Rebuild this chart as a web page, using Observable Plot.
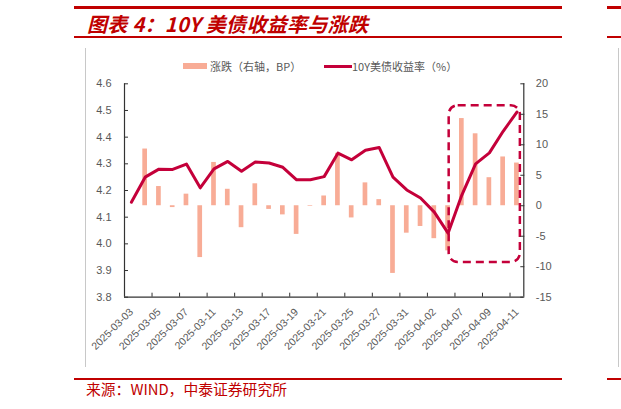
<!DOCTYPE html>
<html><head><meta charset="utf-8">
<script src="https://cdn.jsdelivr.net/npm/d3@7"></script>
<script src="https://cdn.jsdelivr.net/npm/@observablehq/plot@0.6"></script>
<style>
html,body{margin:0;padding:0;background:#fff;}
body{width:621px;height:409px;overflow:hidden;position:relative;font-family:"Noto Sans CJK SC","Noto Sans",sans-serif;}
.abs{position:absolute;}
.red{background:#C00000;}
.gray{background:#c8c8c8;}
</style></head><body>
<div id="chart" class="abs" style="left:0;top:0;"></div>

<div class="abs red" style="left:74px;top:6px;width:488px;height:2.5px;"></div>
<div class="abs red" style="left:607px;top:6px;width:14px;height:2.5px;"></div>
<div class="abs red" style="left:74px;top:36px;width:488px;height:1.5px;"></div>
<div class="abs red" style="left:607px;top:36px;width:14px;height:1.5px;"></div>
<div class="abs" style="left:87px;top:9px;line-height:30px;font-size:20px;letter-spacing:0.3px;font-weight:bold;font-style:italic;color:#C00000;white-space:nowrap;">图表 4：10Y 美债收益率与涨跌</div>

<div class="abs gray" style="left:85px;top:48px;width:1px;height:319px;"></div>
<div class="abs gray" style="left:618px;top:48px;width:1px;height:319px;"></div>

<div class="abs" style="left:183px;top:63px;width:24px;height:6px;background:#F8AC96;"></div>
<div class="abs" style="left:210px;top:58px;line-height:16px;font-size:11px;color:#595959;white-space:nowrap;">涨跌（右轴，BP）</div>
<div class="abs" style="left:324px;top:64.8px;width:28px;height:3px;background:#C4003A;"></div>
<div class="abs" style="left:352px;top:58px;line-height:16px;font-size:11px;color:#595959;white-space:nowrap;">10Y美债收益率（%）</div>

<div class="abs red" style="left:74px;top:378px;width:488px;height:1.5px;"></div>
<div class="abs red" style="left:607px;top:378px;width:14px;height:1.5px;"></div>
<div class="abs" style="left:86px;top:379px;line-height:20px;font-size:14.8px;color:#C00000;white-space:nowrap;">来源：WIND，中泰证券研究所</div>

<script>
// ---- data ----
const dates = ["2025-03-03","2025-03-04","2025-03-05","2025-03-06","2025-03-07","2025-03-10","2025-03-11","2025-03-12","2025-03-13","2025-03-14","2025-03-17","2025-03-18","2025-03-19","2025-03-20","2025-03-21","2025-03-24","2025-03-25","2025-03-26","2025-03-27","2025-03-28","2025-03-31","2025-04-01","2025-04-02","2025-04-03","2025-04-07","2025-04-08","2025-04-09","2025-04-10","2025-04-11"];
const yields = [4.156,4.250,4.280,4.279,4.299,4.210,4.281,4.309,4.272,4.307,4.303,4.287,4.240,4.240,4.252,4.340,4.315,4.351,4.361,4.250,4.202,4.172,4.119,4.040,4.183,4.300,4.341,4.422,4.494];
const changes = [null,9.3,3.15,-0.3,1.9,-8.5,7.1,2.7,-3.6,3.6,-0.6,-1.5,-4.7,-0.1,1.6,8.6,-2.0,3.75,1.0,-11.1,-4.5,-3.4,-5.4,-7.4,14.3,11.8,4.6,8.0,7.0];
const leftTicks = [3.8,3.9,4.0,4.1,4.2,4.3,4.4,4.5,4.6];
const rightTicks = [-15,-10,-5,0,5,10,15,20];
const xLabelDates = ["2025-03-03","2025-03-05","2025-03-07","2025-03-11","2025-03-13","2025-03-17","2025-03-19","2025-03-21","2025-03-25","2025-03-27","2025-03-31","2025-04-02","2025-04-07","2025-04-09","2025-04-11"];
// highlighted window (dashed box), in data units
const boxFrom = "2025-04-03", boxTo = "2025-04-11";
const boxLow = -9.3, boxHigh = 16.4; // BP, right axis

// ---- scales helpers ----
const L0 = 3.8, L1 = 4.6, R0 = -15, R1 = 20;
const toLeft = v => L0 + (v - R0) * (L1 - L0) / (R1 - R0);
const toRight = y => R0 + (y - L0) * (R1 - R0) / (L1 - L0);

const lineData = dates.map((d, i) => ({i, y: yields[i]}));
const barData = dates.map((d, i) => ({i, v: changes[i]})).filter(d => d.v != null);
const labelIdx = xLabelDates.map(d => dates.indexOf(d));
const boundaries = d3.range(2, dates.length, 2).map(k => k - 0.5);
const box = [{x1: dates.indexOf(boxFrom) + 0.08, x2: dates.indexOf(boxTo) + 0.25, y1: toLeft(boxLow), y2: toLeft(boxHigh)}];

const lineColor = "#C4003A", barColor = "#F8AC96", axisColor = "#333333", textColor = "#595959";

const chart = Plot.plot({
  width: 621, height: 409,
  marginLeft: 124, marginRight: 97.7, marginTop: 83.3, marginBottom: 112.3,
  style: {fontFamily: "Liberation Sans, Arial, sans-serif", background: "transparent"},
  x: {type: "linear", domain: [-0.5, dates.length - 0.5], label: null},
  y: {domain: [L0, L1], label: null},
  marks: [
    Plot.rect(barData, {x1: d => d.i - 0.17, x2: d => d.i + 0.17, y1: toLeft(0), y2: d => toLeft(d.v), fill: barColor}),
    Plot.line(lineData, {x: "i", y: "y", stroke: lineColor, strokeWidth: 3, strokeLinejoin: "round", strokeLinecap: "round"}),
    Plot.rect(box, {x1: "x1", x2: "x2", y1: "y1", y2: "y2", rx: 9, fill: "none", stroke: lineColor, strokeWidth: 2.5, strokeDasharray: "8,5"}),
    Plot.ruleY([L0], {stroke: axisColor, strokeWidth: 1.2}),
    Plot.ruleX([-0.5, dates.length - 0.5], {stroke: axisColor, strokeWidth: 1.2}),
    // left axis
    Plot.axisY(leftTicks, {anchor: "left", tickSize: 4, dx: 4, tickFormat: () => "", stroke: axisColor, label: null}),
    Plot.axisY(leftTicks, {anchor: "left", tickSize: 0, tickPadding: 13, tickFormat: d3.format(".1f"), fontSize: 11, fill: textColor, label: null}),
    // right axis
    Plot.axisY(rightTicks.map(toLeft), {anchor: "right", tickSize: 4, dx: -4, tickFormat: () => "", stroke: axisColor, label: null}),
    Plot.axisY(rightTicks.map(toLeft), {anchor: "right", tickSize: 0, tickPadding: 12, tickFormat: y => String(Math.round(toRight(y))), fontSize: 11, fill: textColor, label: null}),
    // x axis
    Plot.axisX(boundaries, {anchor: "bottom", tickSize: 4, dy: -4, tickFormat: () => "", stroke: axisColor, label: null}),
    Plot.axisX(labelIdx, {anchor: "bottom", tickSize: 0, tickPadding: 13, tickRotate: -45, tickFormat: i => dates[i], fontSize: 10.5, fill: textColor, label: null})
  ]
});
document.getElementById("chart").appendChild(chart);
</script>
</body></html>
